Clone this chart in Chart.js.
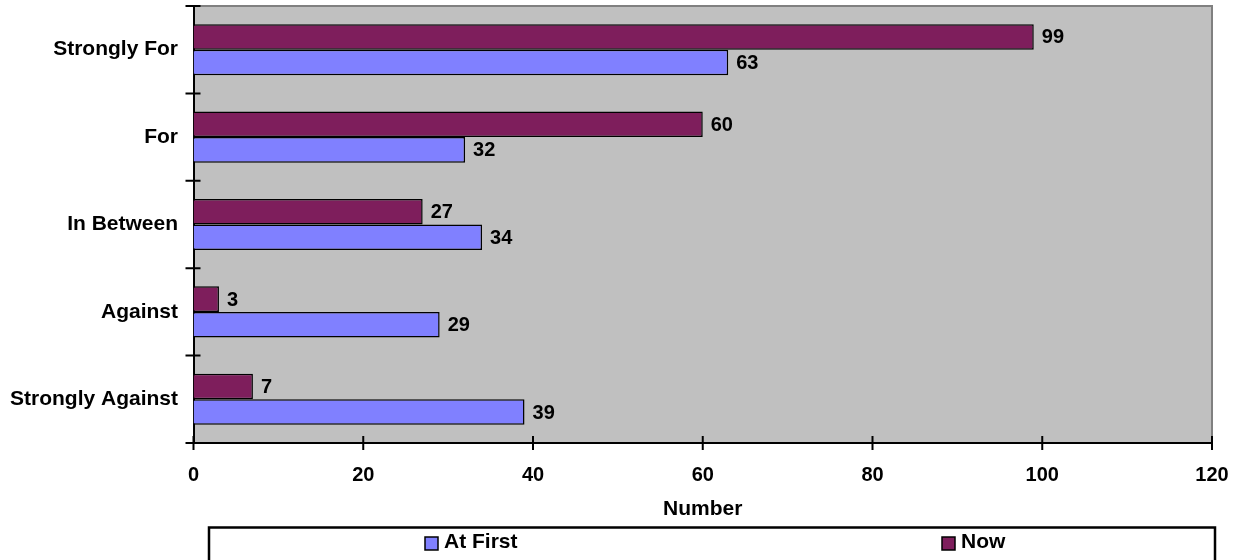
<!DOCTYPE html>
<html>
<head>
<meta charset="utf-8">
<script src="https://cdn.jsdelivr.net/npm/chart.js@4.4.1/dist/chart.umd.min.js"></script>
<style>
html, body { margin: 0; padding: 0; background: #fff; }
#wrap { width: 1241px; height: 560px; }
</style>
</head>
<body>
<div id="wrap"><canvas id="myChart" width="1241" height="560"></canvas></div>
<script>
'use strict';

const categories = ['Strongly For', 'For', 'In Between', 'Against', 'Strongly Against'];
const atFirst = [63, 32, 34, 29, 39];
const now = [99, 60, 27, 3, 7];
const xTicks = [0, 20, 40, 60, 80, 100, 120];
const legendOrder = ['At First', 'Now'];

const fontFamily = "'Liberation Sans', Arial, sans-serif";
const boldFont = { family: fontFamily, size: 20, weight: 'bold' };
const labelFont = { family: fontFamily, size: 21, weight: 'bold' };

// gray plot background with thin gray frame on top/right
const plotBackground = {
	id: 'plotBackground',
	beforeDraw: (chart) => {
		const { ctx, chartArea: a } = chart;
		ctx.save();
		ctx.fillStyle = '#c0c0c0';
		ctx.fillRect(a.left, a.top, a.right - a.left, a.bottom - a.top);
		ctx.strokeStyle = '#808080';
		ctx.lineWidth = 2;
		ctx.beginPath();
		ctx.moveTo(a.left, a.top);
		ctx.lineTo(a.right, a.top);
		ctx.lineTo(a.right, a.bottom);
		ctx.stroke();
		ctx.restore();
	},
};

// tick marks that cross the axis lines
const crossTicks = {
	id: 'crossTicks',
	afterDraw: (chart) => {
		const { ctx, chartArea: a, scales } = chart;
		ctx.save();
		ctx.strokeStyle = '#000';
		ctx.lineWidth = 2;
		ctx.beginPath();
		xTicks.forEach((v) => {
			const px = scales.x.getPixelForValue(v);
			ctx.moveTo(px, a.bottom - 7);
			ctx.lineTo(px, a.bottom + 7);
		});
		for (let i = 0; i <= categories.length; i++) {
			const py = scales.y.getPixelForValue(i - 0.5);
			ctx.moveTo(a.left - 8, py);
			ctx.lineTo(a.left + 7, py);
		}
		ctx.stroke();
		ctx.restore();
	},
};

const dataLabels = {
	id: 'dataLabels',
	afterDatasetsDraw: (chart) => {
		const { ctx } = chart;
		ctx.save();
		ctx.font = `bold 20px ${fontFamily}`;
		ctx.fillStyle = '#000';
		ctx.textAlign = 'left';
		ctx.textBaseline = 'middle';
		chart.data.datasets.forEach((ds, d) => {
			chart.getDatasetMeta(d).data.forEach((bar, i) => {
				ctx.fillText(String(ds.data[i]), bar.x + 8, bar.y + 1);
			});
		});
		ctx.restore();
	},
};

const boxLegend = {
	id: 'boxLegend',
	afterDraw: (chart) => {
		const { ctx } = chart;
		const left = 209;
		const top = 527.5;
		const right = chart.width - 26;
		ctx.save();
		ctx.strokeStyle = '#000';
		ctx.lineWidth = 2.5;
		ctx.strokeRect(left, top, right - left, 40);
		const itemX = [425, 942];
		ctx.font = `bold 21px ${fontFamily}`;
		ctx.textAlign = 'left';
		ctx.textBaseline = 'middle';
		legendOrder.forEach((name, k) => {
			const ds = chart.data.datasets.find((s) => s.label === name);
			ctx.fillStyle = ds.backgroundColor;
			ctx.fillRect(itemX[k], 537, 13, 13);
			ctx.lineWidth = 1.5;
			ctx.strokeRect(itemX[k], 537, 13, 13);
			ctx.fillStyle = '#000';
			ctx.fillText(name, itemX[k] + 19, 542);
		});
		ctx.restore();
	},
};

const myChart = new Chart(document.getElementById('myChart').getContext('2d'), {
	type: 'bar',
	data: {
		labels: categories,
		datasets: [
			{
				label: 'Now',
				data: now,
				backgroundColor: '#7e1e5c',
				borderColor: '#000',
				borderWidth: 1.5,
				categoryPercentage: 0.585,
				barPercentage: 1,
			},
			{
				label: 'At First',
				data: atFirst,
				backgroundColor: '#8080ff',
				borderColor: '#000',
				borderWidth: 1.5,
				categoryPercentage: 0.585,
				barPercentage: 1,
			},
		],
	},
	options: {
		indexAxis: 'y',
		responsive: false,
		animation: false,
		devicePixelRatio: 1,
		layout: { padding: { top: 6, right: 29, bottom: 33, left: 0 } },
		plugins: {
			legend: { display: false },
			tooltip: { enabled: false },
		},
		scales: {
			x: {
				min: 0,
				max: 120,
				ticks: { stepSize: 20, color: '#000', font: boldFont, padding: 12 },
				grid: { display: false },
				border: { display: true, color: '#000', width: 2 },
				title: {
					display: true,
					text: 'Number',
					color: '#000',
					font: labelFont,
					padding: { top: 0, bottom: 5 },
				},
				afterFit: (scale) => {
					scale.height = 84;
					scale.paddingLeft = 0;
					scale.paddingRight = 0;
				},
			},
			y: {
				ticks: { color: '#000', font: labelFont, padding: 7.5 },
				grid: { display: false },
				border: { display: true, color: '#000', width: 2 },
				afterFit: (scale) => {
					scale.width = 193.5;
					scale.paddingTop = 0;
					scale.paddingBottom = 0;
				},
			},
		},
	},
	plugins: [plotBackground, crossTicks, dataLabels, boxLegend],
});
</script>
</body>
</html>
